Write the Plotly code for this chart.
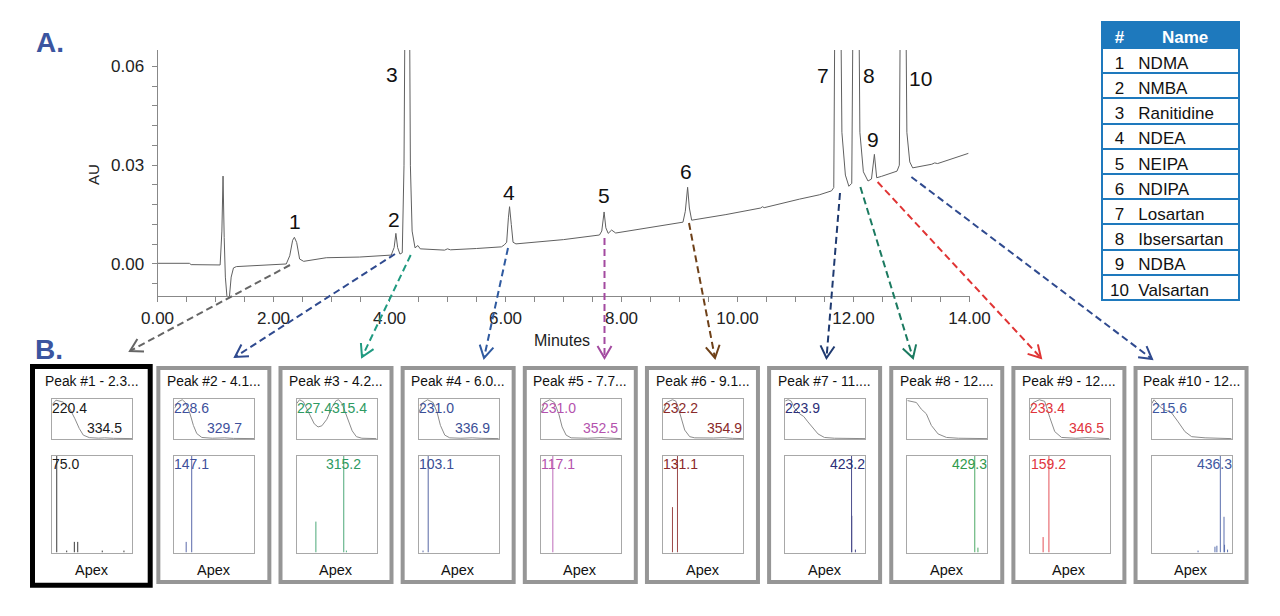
import numpy as np
import plotly.graph_objects as go

W, H = 1280, 616
FONT = "Liberation Sans, Arial, sans-serif"

# ---------------- data ----------------
# chromatogram: retention time (min) and absorbance (AU)
chrom_time = [0.00, 0.55, 0.58, 1.08, 1.11, 1.13, 1.15, 1.17, 1.20, 1.24, 1.27, 1.31, 1.36, 1.60,
              2.00, 2.22, 2.28, 2.33, 2.36, 2.40, 2.45, 2.52, 2.91, 3.48, 4.03, 4.08, 4.11, 4.14,
              4.18, 4.22, 4.25, 4.31, 4.36, 4.39, 4.44, 4.49, 4.53, 4.95, 5.00, 5.05, 5.50, 5.93,
              5.98, 6.02, 6.05, 6.07, 6.10, 6.13, 6.18, 7.00, 7.62, 7.66, 7.70, 7.73, 7.77, 7.83,
              7.90, 8.31, 8.80, 9.06, 9.10, 9.14, 9.17, 9.21, 9.80, 10.40, 10.43, 10.46, 11.07,
              11.41, 11.62, 11.66, 11.72, 11.80, 11.86, 11.92, 11.97, 12.04, 12.11, 12.17, 12.25,
              12.31, 12.36, 12.40, 12.48, 12.75, 12.79, 12.85, 12.92, 12.97, 13.02, 13.35, 13.40,
              13.45, 13.98]
chrom_au = [0.0002, 0.0002, -0.0002, -0.0003, 0.0100, 0.0267, 0.0080, -0.0040, -0.0105, -0.0100,
            -0.0040, -0.0012, -0.0008, -0.0006, -0.0002, 0.0000, 0.0025, 0.0072, 0.0081, 0.0065,
            0.0015, 0.0008, 0.0019, 0.0021, 0.0027, 0.0050, 0.0093, 0.0050, 0.0030, 0.0034,
            0.0300, 0.2000, 0.0300, 0.0100, 0.0049, 0.0056, 0.0046, 0.0042, 0.0046, 0.0043,
            0.0047, 0.0052, 0.0058, 0.0066, 0.0140, 0.0174, 0.0120, 0.0066, 0.0061, 0.0074,
            0.0088, 0.0100, 0.0158, 0.0110, 0.0093, 0.0103, 0.0094, 0.0105, 0.0119, 0.0127,
            0.0160, 0.0233, 0.0170, 0.0133, 0.0150, 0.0170, 0.0174, 0.0171, 0.0197, 0.0210,
            0.0222, 0.0232, 0.2000, 0.0400, 0.0270, 0.0236, 0.0245, 0.2000, 0.0400, 0.0280,
            0.0252, 0.0258, 0.0333, 0.0262, 0.0266, 0.0282, 0.0300, 0.2000, 0.0400, 0.0310,
            0.0292, 0.0303, 0.0307, 0.0305, 0.0336]

peak_ids = [1, 2, 3, 4, 5, 6, 7, 8, 9, 10]
compound_names = ["NDMA", "NMBA", "Ranitidine", "NDEA", "NEIPA", "NDIPA", "Losartan",
                  "Ibsersartan", "NDBA", "Valsartan"]
peak_rt_text = ["2.3...", "4.1...", "4.2...", "6.0...", "7.7...", "9.1...", "11....",
                "12....", "12....", "12..."]
uv_max_1 = [220.4, 228.6, 227.4, 231.0, 231.0, 232.2, 223.9, None, 233.4, 215.6]
uv_max_2 = [334.5, 329.7, 315.4, 336.9, 352.5, 354.9, None, None, 346.5, None]
ms_base = [75.0, 147.1, 315.2, 103.1, 117.1, 131.1, 423.2, 429.3, 159.2, 436.3]

# UV spectra (nm, relative absorbance)
uv1_nm = [210, 212.4, 218.7, 236.1, 251.8, 263.8, 274.1, 283.6, 297.9, 320, 334.5, 355, 400]
uv1_ab = [0.88, 0.91, 0.99, 0.94, 0.765, 0.51, 0.26, 0.09, 0.025, 0.012, 0.02, 0.008, 0.0]
uv2_nm = [210, 219, 228.6, 236, 247, 255, 263, 275, 300, 329.7, 350, 400]
uv2_ab = [0.78, 0.95, 1.0, 0.93, 0.64, 0.34, 0.13, 0.03, 0.01, 0.02, 0.006, 0.0]
uv3_nm = [210, 217, 226, 238, 252, 261, 270, 282, 294, 304, 310, 318, 330, 342, 352, 365, 400]
uv3_ab = [0.9, 1.0, 0.95, 0.7, 0.38, 0.3, 0.33, 0.5, 0.8, 0.98, 1.0, 0.9, 0.55, 0.2, 0.05, 0.01, 0.0]
uv4_nm = [210, 212.4, 218.7, 231.0, 244, 253.5, 261.5, 271.8, 283.6, 310, 336.9, 360, 400]
uv4_ab = [0.66, 0.72, 0.92, 1.0, 0.93, 0.68, 0.34, 0.09, 0.02, 0.01, 0.02, 0.008, 0.0]
uv5_nm = [210, 212.4, 218, 231.0, 242, 252.4, 260.4, 269.9, 281.8, 320, 352.5, 375, 400]
uv5_ab = [0.66, 0.72, 0.93, 1.0, 0.93, 0.64, 0.3, 0.09, 0.02, 0.01, 0.025, 0.008, 0.0]
uv6_nm = [210, 211.5, 218, 232.2, 240, 246, 253.5, 261.5, 273.3, 285.2, 330, 354.9, 375, 400]
uv6_ab = [0.68, 0.72, 0.93, 1.0, 0.97, 0.8, 0.51, 0.22, 0.05, 0.02, 0.015, 0.025, 0.008, 0.0]
uv7_nm = [210, 217, 223.9, 232, 244, 254, 264, 276, 288, 303, 327, 400]
uv7_ab = [0.97, 1.0, 0.97, 0.78, 0.64, 0.57, 0.43, 0.26, 0.12, 0.03, 0.01, 0.0]
uv8_nm = [210, 222, 231.5, 243, 255, 267, 283, 303, 331, 400]
uv8_ab = [0.98, 0.96, 0.93, 0.76, 0.64, 0.34, 0.12, 0.03, 0.01, 0.0]
uv9_nm = [210, 219, 233.4, 246, 258, 270, 286, 320, 346.5, 370, 400]
uv9_ab = [0.72, 0.93, 1.0, 0.96, 0.55, 0.18, 0.03, 0.01, 0.025, 0.008, 0.0]
uv10_nm = [210, 215.6, 230, 240, 250, 257.5, 273, 289, 305, 337, 400]
uv10_ab = [0.9, 1.0, 0.82, 0.74, 0.7, 0.66, 0.43, 0.18, 0.05, 0.02, 0.0]

# mass spectra at apex (m/z, relative intensity %)
ms1_mz = [75.0, 131, 174, 193, 331, 453]
ms1_in = [100, 2, 11, 11, 2, 2]
ms2_mz = [116, 147.1]
ms2_in = [11, 100]
ms3_mz = [158.5, 315.2, 330]
ms3_in = [32, 100, 2]
ms4_mz = [74, 103.1]
ms4_in = [2, 100]
ms5_mz = [117.1]
ms5_in = [100]
ms6_mz = [103, 131.1]
ms6_in = [47, 100]
ms7_mz = [423.2, 424.4, 445]
ms7_in = [100, 38, 3]
ms8_mz = [429.3, 447]
ms8_in = [100, 5]
ms9_mz = [126.6, 159.2]
ms9_in = [16, 100]
ms10_mz = [311, 406, 417, 436.3, 457, 460, 477]
ms10_in = [2, 6, 7, 100, 37, 8, 3]

uv_nm = [uv1_nm, uv2_nm, uv3_nm, uv4_nm, uv5_nm, uv6_nm, uv7_nm, uv8_nm, uv9_nm, uv10_nm]
uv_ab = [uv1_ab, uv2_ab, uv3_ab, uv4_ab, uv5_ab, uv6_ab, uv7_ab, uv8_ab, uv9_ab, uv10_ab]
ms_mz = [ms1_mz, ms2_mz, ms3_mz, ms4_mz, ms5_mz, ms6_mz, ms7_mz, ms8_mz, ms9_mz, ms10_mz]
ms_in = [ms1_in, ms2_in, ms3_in, ms4_in, ms5_in, ms6_in, ms7_in, ms8_in, ms9_in, ms10_in]

# ---------------- styles / layout helpers ----------------
label_colors = ['#1a1a1a', '#3d4f9b', '#2e9a62', '#3a4e96', '#b452ad', '#8a2a2a',
                '#2c2f78', '#2f9a4c', '#e0343c', '#3e57a0']
arrow_colors = ['#666666', '#2f4a8f', '#1f9a80', '#2f5aa0', '#a34aa0', '#6e4018',
                '#1f3a70', '#1b7a60', '#e03434', '#2f4a8f']
arrow_px = [((290, 265), (130, 351)), ((395, 254), (235, 357)), ((410.7, 255), (362, 357)),
            ((508, 248), (484, 358)), ((604.5, 238), (604.5, 358)), ((689, 223), (715, 358)),
            ((840, 193), (826.5, 358)), ((860.4, 187), (913, 358)), ((877.6, 182), (1041, 358)),
            ((911.4, 177), (1152, 359))]
peak_label_pos = [(2.37, 0.0129), (4.07, 0.0136), (4.05, 0.0575), (6.06, 0.0217), (7.70, 0.0207),
                  (9.11, 0.0281), (11.47, 0.0572), (12.26, 0.0574), (12.34, 0.0379), (13.16, 0.0562)]


def PX(x):
    return x / W


def PY(y):
    return 1 - y / H


UV_LO, UV_HI = 210, 400
MS_LO, MS_HI = 50, 500
LBL = 14


def text_w(s, size):
    return sum(0.278 if c == '.' else 0.556 for c in s) * size


def note(x, y, text, size, color='#111', xref='paper', yref='paper', **kw):
    d = dict(x=x, y=y, xref=xref, yref=yref, text=text, showarrow=False,
             xanchor='center', yanchor='middle', font=dict(size=size, color=color))
    d.update(kw)
    return d


fig = go.Figure()
layout = dict(width=W, height=H, margin=dict(l=0, r=0, t=0, b=0, pad=0, autoexpand=False),
              paper_bgcolor='white', plot_bgcolor='white', showlegend=False,
              font=dict(family=FONT, color='#111'))
shapes, annos = [], []

# main chromatogram
fig.add_trace(go.Scatter(x=chrom_time, y=chrom_au, mode='lines',
                         line=dict(color='#606060', width=1), xaxis='x', yaxis='y',
                         hoverinfo='skip'))
layout['xaxis'] = dict(domain=[PX(157.5), PX(969.5)], range=[0, 14], anchor='y',
                       tick0=0, dtick=2, tickformat='.2f', ticks='outside', ticklen=5,
                       tickcolor='#888', showline=True, linecolor='#888', linewidth=1,
                       showgrid=False, zeroline=False, ticklabelstandoff=2, automargin=False,
                       minor=dict(dtick=0.5, ticks='outside', ticklen=5, tickcolor='#888'),
                       tickfont=dict(size=17, color='#222'))
layout['yaxis'] = dict(domain=[PY(296), PY(50)], range=[-0.00973, 0.0650], anchor='x',
                       tick0=0, dtick=0.03, tickformat='.2f', ticks='outside', ticklen=5,
                       tickcolor='#888', showline=True, linecolor='#888', linewidth=1,
                       showgrid=False, zeroline=False, ticklabelstandoff=4, automargin=False,
                       minor=dict(dtick=0.006, ticks='outside', ticklen=5, tickcolor='#888'),
                       tickfont=dict(size=17, color='#222'))

for pid, (lx, ly) in zip(peak_ids, peak_label_pos):
    annos.append(note(lx, ly, str(pid), 21, xref='x', yref='y'))

annos.append(note(PX(562), PY(340), 'Minutes', 16, '#222'))
annos.append(note(PX(93), PY(175), 'AU', 15, '#222', textangle=-90))
for t, (ax, ay) in [('A.', (50, 43)), ('B.', (49, 349))]:
    annos.append(note(PX(ax), PY(ay), '<b>%s</b>' % t, 28, '#3b55a0'))

# panels
for i in range(10):
    cx = 92.3 + 122.15 * i
    nu, nm_ = 2 + 2 * i, 3 + 2 * i
    col = label_colors[i]
    # outer box
    if i == 0:
        shapes.append(dict(type='rect', xref='paper', yref='paper', x0=PX(32.5), x1=PX(150.2),
                           y0=PY(585.2), y1=PY(366.5), line=dict(color='black', width=5)))
    else:
        bx = cx - 0.6
        shapes.append(dict(type='rect', xref='paper', yref='paper', x0=PX(bx - 55.5),
                           x1=PX(bx + 55.5), y0=PY(582), y1=PY(368),
                           line=dict(color='#969696', width=4)))
    annos.append(note(PX(cx - 0.5), PY(381.7),
                      'Peak #%d - %s' % (peak_ids[i], peak_rt_text[i]), 13.8))
    annos.append(note(PX(cx - 0.5), PY(570), 'Apex', 14.5))

    inset_ax = dict(showgrid=False, zeroline=False, showticklabels=False, ticks='',
                    showline=True, linecolor='#a8a8a8', linewidth=1, mirror=True,
                    fixedrange=True, automargin=False)
    layout['xaxis%d' % nu] = dict(inset_ax, domain=[PX(cx - 40), PX(cx + 40)],
                                  range=[UV_LO, UV_HI], anchor='y%d' % nu)
    layout['yaxis%d' % nu] = dict(inset_ax, domain=[PY(439), PY(399)], range=[-0.01, 1.02],
                                  anchor='x%d' % nu)
    layout['xaxis%d' % nm_] = dict(inset_ax, domain=[PX(cx - 40), PX(cx + 40)],
                                   range=[MS_LO, MS_HI], anchor='y%d' % nm_)
    layout['yaxis%d' % nm_] = dict(inset_ax, domain=[PY(552.5), PY(456)], range=[0, 100],
                                   anchor='x%d' % nm_)

    fig.add_trace(go.Scatter(x=uv_nm[i], y=uv_ab[i], mode='lines',
                             line=dict(color='#8c8c8c', width=1),
                             xaxis='x%d' % nu, yaxis='y%d' % nu, hoverinfo='skip'))
    sx, sy = [], []
    for m, v in zip(ms_mz[i], ms_in[i]):
        sx += [m, m, None]
        sy += [0, v, None]
    fig.add_trace(go.Scatter(x=sx, y=sy, mode='lines', line=dict(color=col, width=1),
                             opacity=0.85, xaxis='x%d' % nm_, yaxis='y%d' % nm_,
                             hoverinfo='skip'))

    # UV labels
    first_right = None
    if uv_max_1[i] is not None:
        s = '%.1f' % uv_max_1[i]
        hw = text_w(s, LBL) / 2 / 80
        f = (uv_max_1[i] - UV_LO) / (UV_HI - UV_LO)
        fx = min(max(f, hw), 1 - hw)
        first_right = fx + hw
        annos.append(note(fx, 0.78, s, LBL, col, xref='x%d domain' % nu,
                          yref='y%d domain' % nu))
    if uv_max_2[i] is not None:
        s = '%.1f' % uv_max_2[i]
        hw = text_w(s, LBL) / 2 / 80
        f = (uv_max_2[i] - UV_LO) / (UV_HI - UV_LO)
        fx = min(max(f, hw), 1 - hw)
        level = np.interp(uv_max_2[i], uv_nm[i], uv_ab[i])
        if level > 0.5:
            fy = 0.78
            if first_right is not None:
                fx = max(fx, first_right + hw)
        else:
            fy = 0.28
        annos.append(note(fx, fy, s, LBL, col, xref='x%d domain' % nu,
                          yref='y%d domain' % nu))
    # MS label
    s = '%.1f' % ms_base[i]
    hw = text_w(s, LBL) / 2 / 80
    f = (ms_base[i] - MS_LO) / (MS_HI - MS_LO)
    fx = min(max(f, hw), 1 - hw)
    annos.append(note(fx, 0.915, s, LBL, col, xref='x%d domain' % nm_,
                      yref='y%d domain' % nm_))

# dashed connector arrows
for (p0, p1), c in zip(arrow_px, arrow_colors):
    (x0, y0), (x1, y1) = p0, p1
    shapes.append(dict(type='line', xref='paper', yref='paper', x0=PX(x0), y0=PY(y0),
                       x1=PX(x1), y1=PY(y1), line=dict(color=c, width=2, dash='7px,4px')))
    d = np.array([x1 - x0, y1 - y0], dtype=float)
    d /= np.linalg.norm(d)
    L, th = 14, np.radians(30)
    pts = []
    for a in (th, -th):
        r = np.array([d[0] * np.cos(a) - d[1] * np.sin(a), d[0] * np.sin(a) + d[1] * np.cos(a)])
        pts.append((x1 - L * r[0], y1 - L * r[1]))
    path = 'M %f,%f L %f,%f L %f,%f' % (PX(pts[0][0]), PY(pts[0][1]), PX(x1), PY(y1),
                                        PX(pts[1][0]), PY(pts[1][1]))
    shapes.append(dict(type='path', xref='paper', yref='paper', path=path,
                       line=dict(color=c, width=2)))

# compound table
BLUE = '#1e79bd'
NB = '\u00a0'
rows = []
for pid, name in zip(peak_ids, compound_names):
    if pid < 10:
        rows.append(NB + str(pid) + NB * 3 + name)
    else:
        rows.append(str(pid) + NB * 2 + name)
fig.add_trace(go.Table(
    domain=dict(x=[PX(1102), PX(1240)], y=[0.4, PY(22)]),
    columnwidth=[1],
    header=dict(values=[NB + '#' + NB * 8 + 'Name'], fill_color=BLUE,
                line=dict(color=BLUE, width=2), align='left', height=26,
                font=dict(family=FONT, size=17, color='white', weight='bold')),
    cells=dict(values=[rows], fill_color='white', line=dict(color=BLUE, width=2),
               align='left', height=25.2, font=dict(family=FONT, size=17, color='#111'))))

layout['shapes'] = shapes
layout['annotations'] = annos
fig.update_layout(**layout)

fig.write_html("out.html", config={'displayModeBar': False},
               post_script="document.body.style.margin='0';document.documentElement.style.overflow='hidden';")
